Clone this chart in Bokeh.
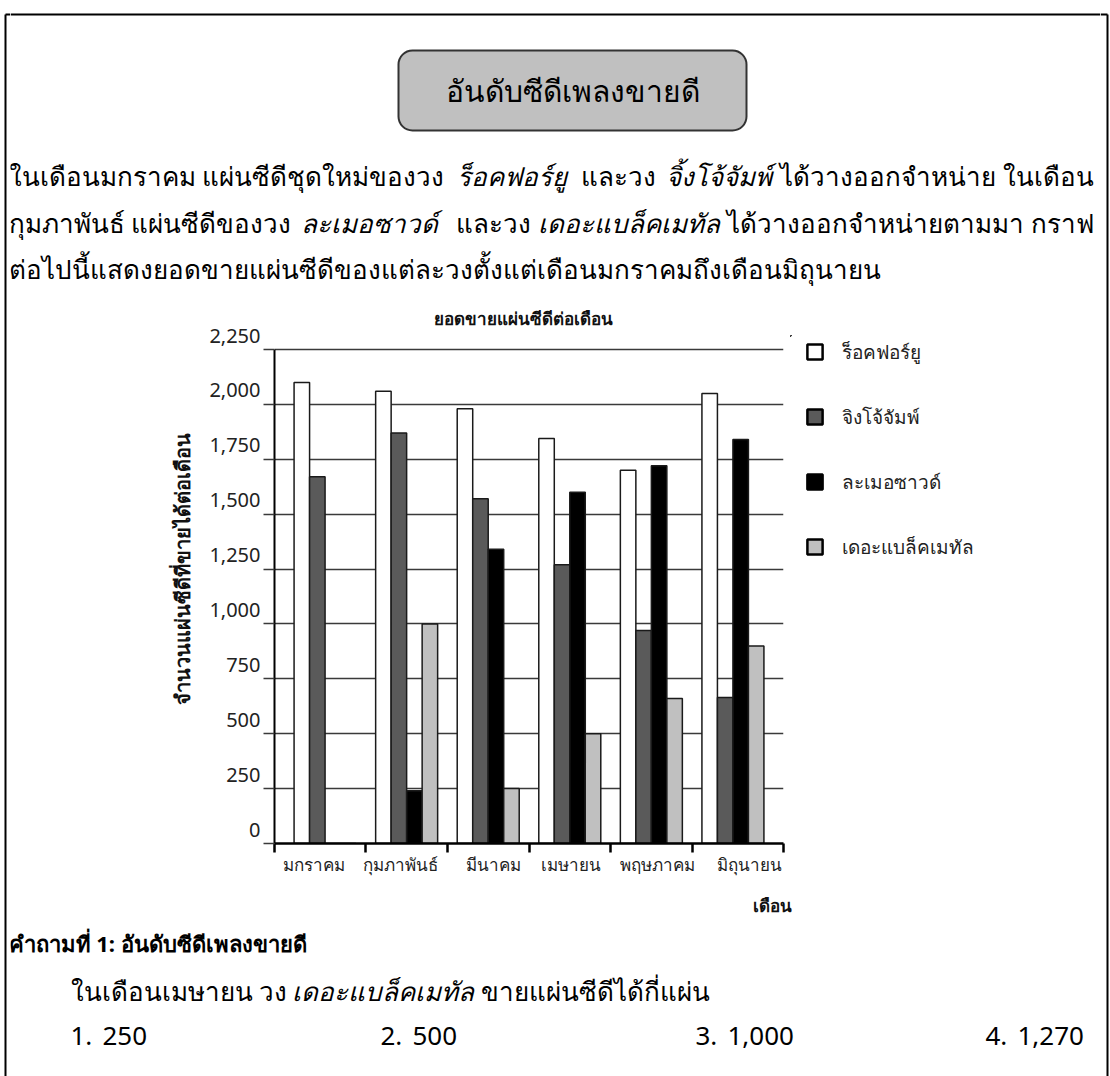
import math

from bokeh.embed import file_html
from bokeh.layouts import column, row
from bokeh.models import (BoxAnnotation, ColumnDataSource, FixedTicker, Label,
                          Legend, LegendItem, LinearAxis, NumeralTickFormatter, Range1d)
from bokeh.plotting import figure
from bokeh.resources import INLINE
from bokeh.transform import dodge

# ---------------------------------------------------------------- data
months = ["มกราคม", "กุมภาพันธ์", "มีนาคม", "เมษายน", "พฤษภาคม", "มิถุนายน"]
bands = ["ร็อคฟอร์ยู", "จิงโจ้จัมพ์", "ละเมอซาวด์", "เดอะแบล็คเมทัล"]
rock_for_you = [2100, 2060, 1980, 1845, 1700, 2050]
jingjo_jump = [1670, 1870, 1570, 1270, 970, 665]
lamer_sound = [0, 240, 1340, 1600, 1720, 1840]
the_black_metal = [0, 1000, 250, 500, 660, 900]
y_ticks = [0, 250, 500, 750, 1000, 1250, 1500, 1750, 2000, 2250]
Y_MAX = 2250
answers = ["250", "500", "1,000", "1,270"]

# ---------------------------------------------------------------- page geometry
PAGE_W, PAGE_H = 1110, 1076
STRIP = 10                        # side strips holding the page frame lines
TOP_H, CHART_H = 290, 595
BOTTOM_H = PAGE_H - TOP_H - CHART_H
YLAB_W, CHART_W = 190, 590
LEGEND_W = PAGE_W - 2 * STRIP - YLAB_W - CHART_W
FONT = "Noto Sans"
BODY = 26
FRAME_LINE = dict(line_color="black", line_width=2)

# chart frame (page pixels): the value axis runs from 843 (0) up to 349 (2,250);
# the frame reaches a little higher so the lifted value labels stay inside it
GRID_TOP, GRID_BOTTOM = 349, 843
SHIFT_PX = 13.9
FRAME_TOP = 335
UNITS_PER_PX = Y_MAX / (GRID_BOTTOM - GRID_TOP)
Y_END = (GRID_BOTTOM - FRAME_TOP) * UNITS_PER_PX
SHIFT = SHIFT_PX * UNITS_PER_PX

X0, X1 = -0.12, 6.12
BAR_W = 0.19
offsets = [-1.5 * BAR_W, -0.5 * BAR_W, 0.5 * BAR_W, 1.5 * BAR_W]
fills = ["#ffffff", "#5a5a5a", "#000000", "#c0c0c0"]
month_label_pos = [0.37, 1.43, 2.56, 3.52, 4.58, 5.70]


def blank(width, height, x0, x1, y0, y1):
    """A figure whose whole area is drawing space, in page pixel coordinates."""
    f = figure(width=width, height=height,
               x_range=Range1d(x0, x1), y_range=Range1d(y1, y0),
               x_axis_type=None, y_axis_type=None,
               output_backend="svg", toolbar_location=None, min_border=0)
    f.outline_line_color = None
    f.background_fill_color = "white"
    f.border_fill_color = "white"
    return f


def put(fig, x, y, text, size, style="normal", align="left", color="black", angle=0.0):
    fig.add_layout(Label(
        x=x, y=y, text=text, angle=angle,
        text_font=FONT, text_font_size=f"{size}px", text_font_style=style,
        text_align=align, text_baseline="middle", text_color=color,
    ))


# ---------------------------------------------------------------- page frame strips
left_strip = blank(STRIP, PAGE_H, 0, STRIP, 0, PAGE_H)
left_strip.segment(x0=[5, 5], y0=[14, 14], x1=[5, STRIP], y1=[PAGE_H, 14], **FRAME_LINE)
right_strip = blank(STRIP, PAGE_H, PAGE_W - STRIP, PAGE_W, 0, PAGE_H)
right_strip.segment(x0=[1107, PAGE_W - STRIP], y0=[14, 14], x1=[1107, 1107], y1=[PAGE_H, 14],
                    **FRAME_LINE)

# ---------------------------------------------------------------- heading and paragraph
top = blank(PAGE_W - 2 * STRIP, TOP_H, STRIP, PAGE_W - STRIP, 0, TOP_H)
top.segment(x0=[STRIP], y0=[14], x1=[PAGE_W - STRIP], y1=[14], **FRAME_LINE)
top.add_layout(BoxAnnotation(left=398, right=746, top=50, bottom=130,
                             fill_color="#c0c0c0", fill_alpha=1,
                             line_color="#333333", line_alpha=1, line_width=2,
                             border_radius=14))
put(top, 572, 90, "อันดับซีดีเพลงขายดี", 30, align="center")

put(top, 8, 175, "ในเดือนมกราคม แผ่นซีดีชุดใหม่ของวง", BODY)
put(top, 456, 175, "ร็อคฟอร์ยู", BODY, style="italic")
put(top, 580, 175, "และวง", BODY)
put(top, 665, 175, "จิ้งโจ้จัมพ์", BODY, style="italic")
put(top, 1093, 175, "ได้วางออกจำหน่าย ในเดือน", BODY, align="right")
put(top, 8, 222, "กุมภาพันธ์ แผ่นซีดีของวง", BODY)
put(top, 300, 222, "ละเมอซาวด์", BODY, style="italic")
put(top, 455, 222, "และวง", BODY)
put(top, 537, 222, "เดอะแบล็คเมทัล", BODY, style="italic")
put(top, 1093, 222, "ได้วางออกจำหน่ายตามมา กราฟ", BODY, align="right")
put(top, 8, 268, "ต่อไปนี้แสดงยอดขายแผ่นซีดีของแต่ละวงตั้งแต่เดือนมกราคมถึงเดือนมิถุนายน", BODY)

# ---------------------------------------------------------------- value-axis title
ylab_fig = blank(YLAB_W, CHART_H, STRIP, STRIP + YLAB_W, TOP_H, TOP_H + CHART_H)
put(ylab_fig, 182, 563, "จำนวนแผ่นซีดีที่ขายได้ต่อเดือน", 20, style="bold",
    align="center", color="#111111", angle=math.pi / 2)

# ---------------------------------------------------------------- bar chart
source = ColumnDataSource(dict(
    pos=[i + 0.5 for i in range(len(months))],
    s0=rock_for_you, s1=jingjo_jump, s2=lamer_sound, s3=the_black_metal,
))

chart_left = STRIP + YLAB_W
chart = figure(
    width=CHART_W, height=CHART_H,
    x_range=Range1d(X0, X1), y_range=Range1d(0, Y_END),
    output_backend="svg", toolbar_location=None,
    min_border_left=274 - chart_left, min_border_right=chart_left + CHART_W - 783,
    min_border_top=FRAME_TOP - TOP_H, min_border_bottom=TOP_H + CHART_H - GRID_BOTTOM,
    title="ยอดขายแผ่นซีดีต่อเดือน",
)
chart.outline_line_color = None
chart.background_fill_color = "white"
chart.border_fill_color = "white"
chart.title.align = "left"
chart.title.offset = 159
chart.title.text_font = FONT
chart.title.text_font_size = "17px"
chart.title.text_font_style = "bold"
chart.title.text_color = "#111111"
chart.title.standoff = 11

for k in range(4):
    chart.vbar(x=dodge("pos", offsets[k], range=chart.x_range), top=f"s{k}", width=BAR_W,
               bottom=0, source=source, fill_color=fills[k],
               line_color="#1a1a1a", line_width=1.5)

# y axis next to the frame: line and tick marks only
yax = chart.yaxis[0]
yax.bounds = (0, Y_MAX)
yax.ticker = FixedTicker(ticks=y_ticks)
yax.axis_line_color = "black"
yax.axis_line_width = 2
yax.major_tick_out = 11
yax.major_tick_in = 0
yax.major_tick_line_color = "#3a3a3a"
yax.major_tick_line_width = 1.5
yax.minor_tick_line_color = None
yax.major_label_standoff = 0
yax.major_label_text_color = None

# second y axis carrying the value labels, lifted slightly above each grid line
chart.extra_y_ranges = {"labels": Range1d(-SHIFT, Y_END - SHIFT)}
ylab = LinearAxis(
    y_range_name="labels",
    ticker=FixedTicker(ticks=y_ticks), formatter=NumeralTickFormatter(format="0,0"),
    axis_line_color=None, major_tick_line_color=None, minor_tick_line_color=None,
    major_tick_out=0, major_tick_in=0, minor_tick_out=0, minor_tick_in=0,
    major_label_standoff=3, major_label_text_font=FONT,
    major_label_text_font_size="20px", major_label_text_color="#222222",
)
chart.add_layout(ylab, "left")

chart.ygrid.ticker = FixedTicker(ticks=y_ticks)
chart.ygrid.grid_line_color = "#3a3a3a"
chart.ygrid.grid_line_width = 1.5
chart.xgrid.visible = False

# x axis: month names, tick marks between months
sep_pos = [X0] + [float(i) for i in range(1, len(months))] + [X1]
xax = chart.xaxis[0]
xax.ticker = FixedTicker(ticks=month_label_pos, minor_ticks=sep_pos)
xax.major_label_overrides = {v: m for v, m in zip(month_label_pos, months)}
xax.axis_line_color = "black"
xax.axis_line_width = 2.5
xax.major_tick_out = 0
xax.major_tick_in = 0
xax.minor_tick_out = 9
xax.minor_tick_in = 0
xax.minor_tick_line_color = "black"
xax.minor_tick_line_width = 2.5
xax.major_label_standoff = 0
xax.major_label_text_font = FONT
xax.major_label_text_font_size = "17px"
xax.major_label_text_color = "#222222"

# ---------------------------------------------------------------- legend
legend_fig = blank(LEGEND_W, CHART_H, chart_left + CHART_W, PAGE_W - STRIP,
                   TOP_H, TOP_H + CHART_H)
legend_renderers = [
    legend_fig.vbar(x=[-1e6], top=[0], width=1, fill_color=c,
                    line_color="black", line_width=2.5)
    for c in fills
]
legend = Legend(
    items=[LegendItem(label=b, renderers=[r]) for b, r in zip(bands, legend_renderers)],
    location=(15, 281), padding=0, margin=0, spacing=34,
    glyph_width=19, glyph_height=19, label_height=31, label_standoff=18,
    label_text_font=FONT, label_text_font_size="19px", label_text_color="#222222",
    border_line_color=None, background_fill_alpha=0,
)
legend_fig.add_layout(legend, "center")

# ---------------------------------------------------------------- question
bottom = blank(PAGE_W - 2 * STRIP, BOTTOM_H, STRIP, PAGE_W - STRIP,
               TOP_H + CHART_H, PAGE_H)
put(bottom, 791, 905, "เดือน", 17, style="bold", align="right", color="#111111")
put(bottom, 8, 942, "คำถามที่ 1: อันดับซีดีเพลงขายดี", 22, style="bold")
put(bottom, 70, 990, "ในเดือนเมษายน วง", BODY)
put(bottom, 291, 990, "เดอะแบล็คเมทัล", BODY, style="italic")
put(bottom, 480, 990, "ขายแผ่นซีดีได้กี่แผ่น", BODY)
for i, (x_num, answer) in enumerate(zip([70, 380, 695, 985], answers)):
    put(bottom, x_num, 1035, f"{i + 1}.", BODY)
    put(bottom, x_num + 32, 1035, answer, BODY)

page = row(
    left_strip,
    column(top, row(ylab_fig, chart, legend_fig, spacing=0), bottom, spacing=0),
    right_strip,
    spacing=0,
)

open("out.html", "w").write(file_html(page, INLINE))
